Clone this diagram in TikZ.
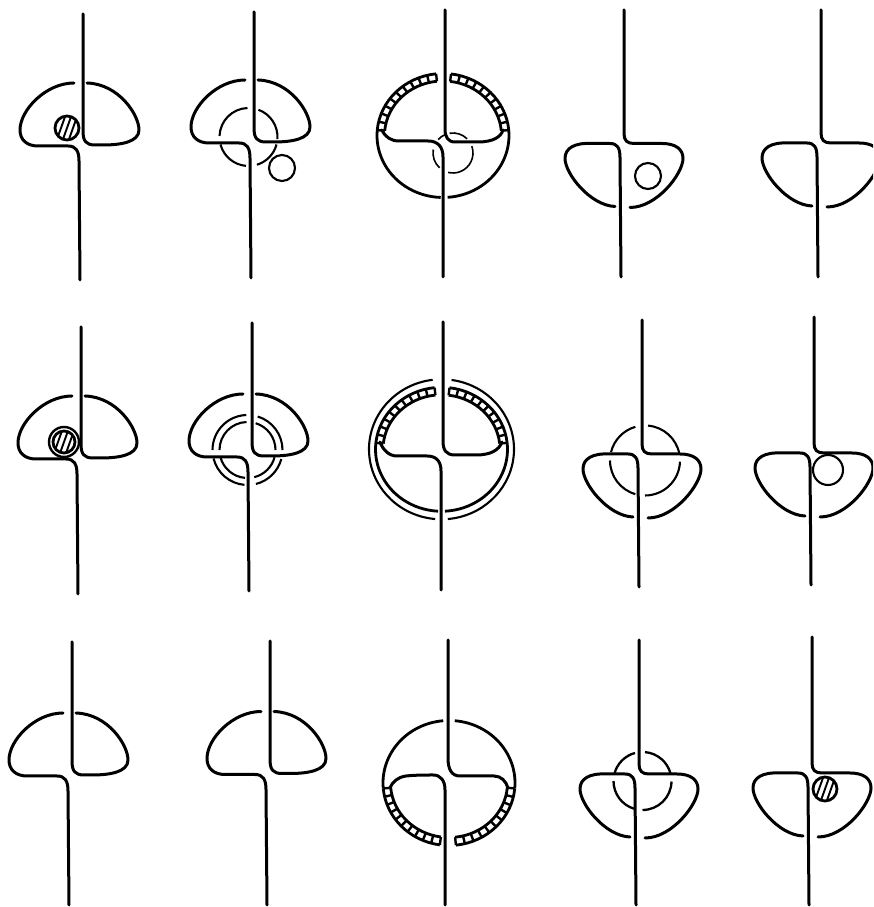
\documentclass[tikz,border=0pt]{standalone}
\usetikzlibrary{calc}
\tikzset{
  wire/.style={line width=3pt,line cap=round,line join=round},
  ring/.style={line width=2.1pt},
  band/.style={line width=2.8pt},
  tick/.style={line width=2.4pt}
}
\newcommand{\domeup}[4]{
  \begin{scope}[shift={(#1,#2)}]
    \draw[wire] (2,#3) -- (2,14) .. controls (2,4) and (5,0) .. (14,0) -- (22,0) .. controls (40,0) and (58,3) .. (58,15) .. controls (58,30) and (38,61) .. (6,62);
    \draw[wire] (-7,62) .. controls (-35,62) and (-61,35) .. (-61,15) .. controls (-61,5) and (-54,-1) .. (-43,-1) -- (-13,-1) .. controls (-5,-1) and (-2,-6) .. (-2,-16) -- (-1,-#4);
  \end{scope}
}
\newcommand{\domedown}[4]{
  \begin{scope}[shift={(#1,#2)}]
    \draw[wire] (2,#3) -- (2,10) .. controls (2,3) and (5,0) .. (12,0) -- (40,0) .. controls (54,0) and (61,-6) .. (61,-15) .. controls (61,-30) and (35,-64) .. (8,-64);
    \draw[wire] (-7,-63) .. controls (-32,-62) and (-57,-30) .. (-57,-15) .. controls (-57,-5) and (-48,1) .. (-30,0) -- (-12,0) .. controls (-5,0) and (-2,-4) .. (-2,-14) -- (-1,-#4);
  \end{scope}
}
\newcommand{\elarc}[6][ring]{
  \draw[#1] (#2) ++(#5:#3 and #4) arc[start angle=#5,end angle=#6,x radius=#3,y radius=#4];
}
\newcommand{\tickband}[5]{
  \elarc[band]{#1}{#2}{#3}{#4}{#5}
  \elarc[band]{#1}{58.5}{54.5}{#4}{#5}
  \foreach \k in {0,...,10}{
    \pgfmathsetmacro{\tangle}{#4+(#5-#4)*\k/10}
    \draw[tick] (#1) ++(\tangle:#2 and #3) -- ($(#1)+(\tangle:58.5 and 54.5)$);
  }
}
\newcommand{\hatchball}[3]{
  \begin{scope}
    \clip (#1,#2) circle (#3);
    \foreach \dx in {-6,0,6}{
      \draw[line width=1.9pt] (#1+\dx-5,#2-14) -- (#1+\dx+5,#2+14);
    }
  \end{scope}
  \draw[line width=2.8pt] (#1,#2) circle (#3);
}
\begin{document}
\begin{tikzpicture}[x=1pt,y=1pt]
  \clip (0,0) rectangle (873,907);
  \fill[white] (0,0) rectangle (873,907);

  % top row
  \domeup{81}{762}{131}{135}
  \hatchball{67}{779}{12}

  \domeup{252}{765}{130}{136}
  \elarc{248.5,770}{29}{29}{178}{92}
  \elarc{248.5,770}{29}{29}{70}{-4}
  \elarc{248.5,770}{29}{29}{195}{265}
  \elarc{248.5,770}{29}{29}{287}{345}
  \draw[ring] (282,739) circle (13);

  \begin{scope}[shift={(443,766)}]
    \draw[wire] (2,131) -- (2,12) .. controls (2,4) and (5,-1) .. (12,-1) -- (35,-1) .. controls (50,-1) and (58,4) .. (60,11);
    \draw[wire] (-61,11) .. controls (-58,4) and (-52,0) .. (-44,0) -- (-15,0) .. controls (-5,0) and (0,-6) .. (0,-16) -- (0,-136);
  \end{scope}
  \tickband{443,771.5}{66}{62}{175}{96}
  \tickband{443,771.5}{66}{62}{5}{83}
  \elarc[band]{443,771.5}{66}{62}{175}{268}
  \elarc[band]{443,771.5}{66}{62}{5}{-86}
  \elarc[line width=1.6pt]{453,754}{20}{20}{100}{45}
  \elarc[line width=1.6pt]{453,754}{20}{20}{20}{-104}
  \elarc[line width=1.6pt]{453,754}{20}{20}{170}{228}
  \elarc[line width=1.6pt]{453,754}{20}{20}{138}{112}

  \domedown{622}{763.5}{133.5}{133.5}
  \draw[ring] (648,731) circle (13);

  \domedown{819}{764}{133}{134}

  % middle row
  \domeup{79}{449}{131}{136}
  \hatchball{64}{465}{11}
  \draw[line width=2.4pt] (64,465) circle (15);

  \domeup{250}{451}{133}{135}
  \foreach \rad in {28,35}{
    \elarc{247.5,457}{\rad}{\rad}{180}{92}
    \elarc{247.5,457}{\rad}{\rad}{73}{0}
    \elarc{247.5,457}{\rad}{\rad}{194}{265}
    \elarc{247.5,457}{\rad}{\rad}{284}{345}
  }

  \begin{scope}[shift={(441,452)}]
    \draw[wire] (2,133) -- (2,14) .. controls (2,5) and (5,0) .. (14,0) -- (35,0) .. controls (50,0) and (58,5) .. (61,13);
    \draw[wire] (-61,13) .. controls (-58,5) and (-52,-1) .. (-44,-1) -- (-14,-1) .. controls (-5,-1) and (0,-6) .. (0,-16) -- (0,-135);
  \end{scope}
  \tickband{441.5,457.7}{66}{62}{174}{96}
  \tickband{441.5,457.7}{66}{62}{6}{83}
  \elarc[band]{441.5,457.7}{66}{62}{174}{267}
  \elarc[band]{441.5,457.7}{66}{62}{6}{-87}
  \elarc{441.5,457.7}{72.5}{70}{97}{265}
  \elarc{441.5,457.7}{72.5}{70}{82}{-85}

  \domedown{640}{453}{134}{133}
  \elarc{645,446.5}{35}{35}{166}{106}
  \elarc{645,446.5}{35}{35}{85}{11}
  \elarc{645,446.5}{35}{35}{180}{254}
  \elarc{645,446.5}{35}{35}{270}{358}

  \domedown{812}{454}{136}{132}
  \draw[ring] (828,437) circle (15);

  % bottom row
  \domeup{70}{132}{133}{130}
  \domeup{268}{133.5}{132.5}{131.5}

  \begin{scope}[shift={(446,131)}]
    \draw[wire] (2,136) -- (2,18) .. controls (2,6) and (6,0) .. (14,0) -- (48,0) .. controls (55,0) and (60,-5) .. (62,-12);
    \draw[wire] (-56,-12) .. controls (-54,-6) and (-48,-1) .. (-40,0) .. controls (-30,1) and (-22,1) .. (-13,1) .. controls (-5,1) and (-1,-5) .. (-1,-14) -- (-1,-129);
  \end{scope}
  \tickband{449,124}{66}{62.5}{185}{262}
  \tickband{449,124}{66}{62.5}{355}{276}
  \elarc[band]{449,124}{66}{62.5}{185}{95}
  \elarc[band]{449,124}{66}{62.5}{-5}{85}

  \domedown{637}{133}{134}{131}
  \elarc[line width=2.3pt]{642.5,126}{29}{29}{165}{105}
  \elarc[line width=2.3pt]{642.5,126}{29}{29}{85}{15}
  \elarc[line width=2.3pt]{642.5,126}{29}{29}{180}{253}
  \elarc[line width=2.3pt]{642.5,126}{29}{29}{270}{359}

  \domedown{810}{134}{136}{132}
  \hatchball{825}{118}{12}
\end{tikzpicture}
\end{document}
